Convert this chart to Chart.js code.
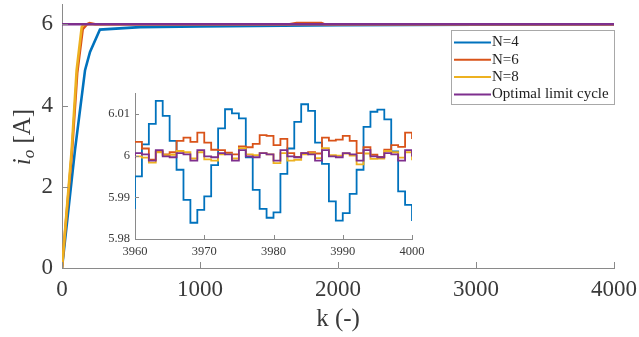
<!DOCTYPE html>
<html>
<head>
<meta charset="utf-8">
<script src="https://cdn.jsdelivr.net/npm/chart.js@4/dist/chart.umd.min.js"></script>
<style>
html, body { margin: 0; padding: 0; background: #fff; }
#wrap { position: relative; width: 639px; height: 337px; }
#main { position: absolute; left: 0; top: 0; }
#inset { position: absolute; left: 95px; top: 88px; }
</style>
</head>
<body>
<div id="wrap">
<canvas id="main" width="639" height="337"></canvas>
<canvas id="inset" width="330" height="175"></canvas>
</div>
<script>
// main plot, k from 0 to 4000
var kN4 = [0, 94, 167, 203, 275, 565, 1000, 2000, 3000, 4000];
var iN4 = [0, 2.9, 4.87, 5.32, 5.87, 5.93, 5.95, 5.98, 5.99, 6.0];
var kN6 = [0, 72, 110, 150, 180, 200, 240, 1650, 1700, 1880, 1900, 4000];
var iN6 = [0, 2.85, 4.8, 5.88, 6.0, 6.03, 6.0, 6.0, 6.03, 6.03, 6.0, 6.0];
var kN8 = [0, 70, 106, 143, 160, 4000];
var iN8 = [0, 2.9, 4.87, 5.93, 6.0, 6.0];
var kOpt = [0, 4000];
var iOpt = [6.0, 6.0];

// zoomed window, k = 3959 ... 4000
var kZoom = [3959, 3960, 3961, 3962, 3963, 3964, 3965, 3966, 3967, 3968, 3969,
    3970, 3971, 3972, 3973, 3974, 3975, 3976, 3977, 3978, 3979,
    3980, 3981, 3982, 3983, 3984, 3985, 3986, 3987, 3988, 3989,
    3990, 3991, 3992, 3993, 3994, 3995, 3996, 3997, 3998, 3999, 4000];
var zN4 = [5.9874, 5.9950, 6.0027, 6.0076, 6.0131, 6.0095, 6.0035, 5.9966, 5.9894, 5.9839, 5.9870,
    5.9902, 5.9977, 6.0065, 6.0111, 6.0101, 6.0089, 5.9996, 5.9918, 5.9872, 5.9851,
    5.9864, 5.9956, 6.0017, 6.0081, 6.0123, 6.0107, 6.0031, 5.9980, 5.9890, 5.9844,
    5.9862, 5.9908, 5.9966, 6.0069, 6.0105, 6.0110, 6.0087, 6.0010, 5.9914, 5.9882, 5.9843];
var zN6 = [6.0033, 6.0033, 6.0017, 5.9990, 6.0010, 6.0003, 6.0008, 6.0035, 6.0043, 6.0033, 6.0055,
    6.0031, 6.0014, 6.0013, 6.0007, 6.0003, 6.0022, 6.0020, 6.0028, 6.0049, 6.0047,
    6.0025, 6.0040, 6.0006, 5.9997, 6.0006, 6.0008, 6.0005, 6.0043, 6.0036, 6.0038,
    6.0047, 6.0035, 6.0006, 6.0020, 6.0002, 5.9997, 6.0014, 6.0025, 6.0021, 6.0055, 6.0040];
var zN8 = [5.9998, 5.9998, 5.9995, 5.9983, 6.0008, 6.0001, 6.0002, 6.0011, 6.0008, 5.9993, 6.0008,
    5.9991, 5.9988, 6.0003, 6.0004, 5.9993, 6.0018, 6.0003, 6.0001, 6.0006, 6.0003,
    5.9982, 6.0006, 5.9988, 5.9990, 6.0003, 6.0006, 5.9994, 6.0018, 6.0001, 6.0000,
    6.0005, 6.0000, 5.9979, 6.0005, 5.9992, 5.9993, 6.0011, 6.0008, 5.9995, 6.0008, 5.9989];
var zOpt = [5.9996, 6.0006, 6.0003, 5.9988, 6.0013, 5.9998, 5.9996, 6.0006, 6.0003, 5.9988, 6.0013,
    5.9998, 5.9996, 6.0006, 6.0003, 5.9988, 6.0013, 5.9998, 5.9996, 6.0006, 6.0003,
    5.9988, 6.0013, 5.9998, 5.9996, 6.0006, 6.0003, 5.9988, 6.0013, 5.9998, 5.9996,
    6.0006, 6.0003, 5.9988, 6.0013, 5.9998, 5.9996, 6.0006, 6.0003, 5.9988, 6.0013, 5.9998];

var nomes = ['N=4', 'N=6', 'N=8', 'Optimal limit cycle'];
var cores = ['#0072BD', '#D95319', '#EDB120', '#7E2F8E'];

var fonte = '"Liberation Serif", "Times New Roman", serif';
var corEixo = '#8a8a8a';
var corTexto = '#3a3a3a';

function pares(xs, ys) {
    return xs.map(function(x, i) { return {x: x, y: ys[i]}; });
}

function serie(idx, xs, ys, largura, degrau) {
    return {
        label: nomes[idx],
        data: pares(xs, ys),
        borderColor: cores[idx],
        backgroundColor: cores[idx],
        borderWidth: largura,
        pointRadius: 0,
        fill: false,
        tension: 0,
        stepped: degrau ? 'before' : false,
        order: 3 - idx
    };
}

// little ticks pointing into the plot, like matlab
var ticksInternos = {
    id: 'ticksInternos',
    afterDraw: function(chart) {
        var ctx = chart.ctx, a = chart.chartArea;
        var tam = chart.canvas.id == 'main' ? 6 : 4;
        ctx.save();
        ctx.strokeStyle = corEixo;
        ctx.lineWidth = 1;
        chart.scales.x.ticks.forEach(function(t) {
            var px = Math.round(chart.scales.x.getPixelForValue(t.value)) + 0.5;
            ctx.beginPath(); ctx.moveTo(px, a.bottom); ctx.lineTo(px, a.bottom - tam); ctx.stroke();
        });
        chart.scales.y.ticks.forEach(function(t) {
            var py = Math.round(chart.scales.y.getPixelForValue(t.value)) + 0.5;
            ctx.beginPath(); ctx.moveTo(a.left, py); ctx.lineTo(a.left + tam, py); ctx.stroke();
        });
        ctx.restore();
    }
};

var extrasPrincipal = {
    id: 'extrasPrincipal',
    afterDraw: function(chart) {
        var ctx = chart.ctx, a = chart.chartArea;
        ctx.save();
        ctx.fillStyle = corTexto;
        // x title
        ctx.font = '25px ' + fonte;
        ctx.textAlign = 'center';
        ctx.textBaseline = 'middle';
        ctx.fillText('k (-)', (a.left + a.right) / 2, 319);

        // y title: i_o [A]
        ctx.translate(22, 137);
        ctx.rotate(-Math.PI / 2);
        ctx.textAlign = 'left';
        ctx.textBaseline = 'alphabetic';
        var f1 = 'italic 25px ' + fonte, f2 = 'italic 17px ' + fonte, f3 = '25px ' + fonte;
        ctx.font = f1; var w1 = ctx.measureText('i').width;
        ctx.font = f2; var w2 = ctx.measureText('o').width;
        ctx.font = f3; var w3 = ctx.measureText(' [A]').width;
        var x0 = -(w1 + w2 + w3) / 2;
        ctx.font = f1; ctx.fillText('i', x0, 8);
        ctx.font = f2; ctx.fillText('o', x0 + w1, 12);
        ctx.font = f3; ctx.fillText(' [A]', x0 + w1 + w2, 8);
        ctx.restore();

        // legend box
        ctx.save();
        var lx = 451, ly = 30, lw = 163, lh = 74;
        ctx.fillStyle = '#fff';
        ctx.fillRect(lx, ly, lw, lh);
        ctx.strokeStyle = '#a8a8a8';
        ctx.lineWidth = 1;
        ctx.strokeRect(lx + 0.5, ly + 0.5, lw, lh);
        ctx.font = '15px ' + fonte;
        ctx.textBaseline = 'middle';
        ctx.textAlign = 'left';
        for (var i = 0; i < nomes.length; i++) {
            var yy = ly + 12.5 + i * 17.3;
            ctx.strokeStyle = cores[i];
            ctx.lineWidth = 2;
            ctx.beginPath(); ctx.moveTo(454, yy); ctx.lineTo(491, yy); ctx.stroke();
            ctx.fillStyle = '#222';
            ctx.fillText(nomes[i], 492, yy);
        }
        ctx.restore();
    }
};

function eixo(opcoes) {
    return Object.assign({
        type: 'linear',
        grid: { drawOnChartArea: false, drawTicks: false },
        border: { display: true, color: corEixo, width: 1 }
    }, opcoes);
}

// chart.js reserves room for half labels at the ends, matlab does not
function semFolga(s) {
    s.paddingTop = 0; s.paddingBottom = 0; s.paddingLeft = 0; s.paddingRight = 0;
}

new Chart(document.getElementById('main').getContext('2d'), {
    type: 'line',
    data: {
        datasets: [
            serie(0, kN4, iN4, 2.6, false),
            serie(1, kN6, iN6, 2.6, false),
            serie(2, kN8, iN8, 2.6, false),
            serie(3, kOpt, iOpt, 2.6, false)
        ]
    },
    options: {
        responsive: false,
        animation: false,
        events: [],
        layout: { padding: { top: 4, right: 25, left: 0, bottom: 0 } },
        plugins: { legend: { display: false }, tooltip: { enabled: false } },
        scales: {
            x: eixo({
                min: 0, max: 4000,
                ticks: { stepSize: 1000, includeBounds: false, padding: 8, color: corTexto,
                    font: { family: fonte, size: 23 }, maxRotation: 0,
                    callback: function(v) { return String(v); } },
                afterFit: function(s) { s.height = 69; semFolga(s); }
            }),
            y: eixo({
                min: 0, max: 6.5,
                ticks: { stepSize: 2, includeBounds: false, padding: 9, color: corTexto,
                    font: { family: fonte, size: 23 },
                    callback: function(v) { return String(v); } },
                afterFit: function(s) { s.width = 62; semFolga(s); }
            })
        }
    },
    plugins: [ticksInternos, extrasPrincipal]
});

new Chart(document.getElementById('inset').getContext('2d'), {
    type: 'line',
    data: {
        datasets: [
            serie(0, kZoom, zN4, 1.8, true),
            serie(1, kZoom, zN6, 1.8, true),
            serie(2, kZoom, zN8, 1.8, true),
            serie(3, kZoom, zOpt, 1.8, true)
        ]
    },
    options: {
        responsive: false,
        animation: false,
        events: [],
        layout: { padding: { top: 5, right: 13, left: 0, bottom: 0 } },
        plugins: { legend: { display: false }, tooltip: { enabled: false } },
        scales: {
            x: eixo({
                min: 3960, max: 4000,
                ticks: { stepSize: 10, includeBounds: false, padding: 5, color: corTexto,
                    font: { family: fonte, size: 12.5 }, maxRotation: 0,
                    callback: function(v) { return String(v); } },
                afterFit: function(s) { s.height = 24; semFolga(s); }
            }),
            y: eixo({
                min: 5.98, max: 6.015,
                ticks: { stepSize: 0.01, includeBounds: false, padding: 5, color: corTexto,
                    font: { family: fonte, size: 12.5 },
                    callback: function(v) { return String(+v.toFixed(3)); } },
                afterFit: function(s) { s.width = 40; semFolga(s); }
            })
        }
    },
    plugins: [ticksInternos]
});
</script>
</body>
</html>
